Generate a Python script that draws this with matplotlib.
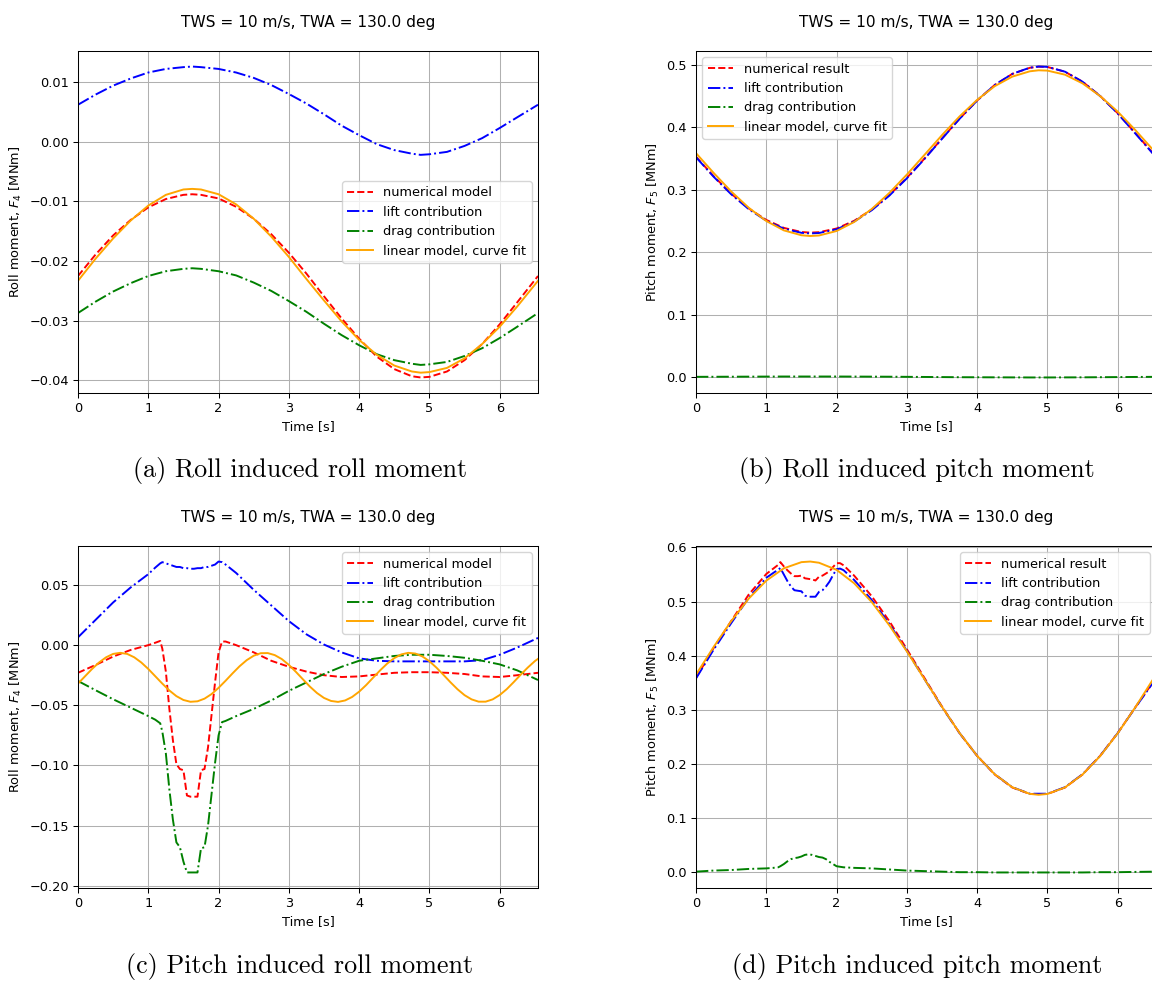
import matplotlib
matplotlib.use('Agg')
import matplotlib.pyplot as plt

# scale of the sub-figures relative to matplotlib defaults
s = 0.926
plt.rcParams['font.size'] = 10 * s
plt.rcParams['axes.titlesize'] = 12 * s
plt.rcParams['lines.linewidth'] = 1.5 * s
plt.rcParams['axes.linewidth'] = 0.8 * s
plt.rcParams['grid.linewidth'] = 0.8 * s
plt.rcParams['xtick.major.size'] = 3.5 * s
plt.rcParams['ytick.major.size'] = 3.5 * s
plt.rcParams['xtick.major.width'] = 0.8 * s
plt.rcParams['ytick.major.width'] = 0.8 * s
plt.rcParams['xtick.major.pad'] = 3.5 * s
plt.rcParams['ytick.major.pad'] = 3.5 * s
plt.rcParams['axes.labelpad'] = 4 * s

title = 'TWS = 10 m/s, TWA = 130.0 deg'

# time grid for the smooth curves
t = [0, 0.25, 0.5, 0.75, 1.0, 1.25, 1.5, 1.625, 1.75, 2.0, 2.25, 2.5, 2.75, 3.0, 3.25,
     3.5, 3.75, 4.0, 4.25, 4.5, 4.75, 4.875, 5.0, 5.25, 5.5, 5.75, 6.0, 6.25, 6.545]

# (a) roll induced roll moment
roll_roll_num = [-0.0225, -0.0189, -0.0157, -0.0131, -0.0110, -0.0096, -0.0089, -0.0088,
                 -0.0089, -0.0095, -0.0109, -0.0129, -0.0155, -0.0186, -0.0221, -0.0259,
                 -0.0296, -0.0330, -0.0360, -0.0381, -0.0393, -0.0395, -0.0394, -0.0385,
                 -0.0366, -0.0339, -0.0306, -0.0269, -0.0225]
roll_roll_lift = [0.0062, 0.0079, 0.0094, 0.0106, 0.0116, 0.0122, 0.0125, 0.0126, 0.0125,
                  0.0122, 0.0116, 0.0107, 0.0095, 0.0080, 0.0064, 0.0046, 0.0027, 0.0011,
                  -0.0004, -0.0014, -0.0020, -0.0022, -0.0021, -0.0017, -0.0007, 0.0006,
                  0.0023, 0.0041, 0.0062]
roll_roll_drag = [-0.0287, -0.0268, -0.0251, -0.0237, -0.0225, -0.0217, -0.0213, -0.0212,
                  -0.0213, -0.0217, -0.0224, -0.0236, -0.0250, -0.0267, -0.0285, -0.0305,
                  -0.0324, -0.0341, -0.0356, -0.0366, -0.0372, -0.0374, -0.0373, -0.0369,
                  -0.0359, -0.0346, -0.0329, -0.0310, -0.0287]
roll_roll_fit = [-0.0233, -0.0196, -0.0162, -0.0132, -0.0107, -0.0089, -0.0080, -0.0079,
                 -0.0080, -0.0088, -0.0105, -0.0129, -0.0159, -0.0193, -0.0230, -0.0266,
                 -0.0301, -0.0332, -0.0357, -0.0375, -0.0385, -0.0387, -0.0386, -0.0379,
                 -0.0363, -0.0339, -0.0310, -0.0276, -0.0233]

# (b) roll induced pitch moment
roll_pitch_num = [0.3528, 0.3218, 0.2938, 0.2701, 0.2517, 0.2390, 0.2324, 0.2314, 0.2321,
                  0.2380, 0.2503, 0.2683, 0.2915, 0.3190, 0.3497, 0.3819, 0.4136, 0.4427,
                  0.4675, 0.4852, 0.4950, 0.4968, 0.4963, 0.4887, 0.4727, 0.4500, 0.4224,
                  0.3907, 0.3528]
roll_pitch_lift = [0.3520, 0.3209, 0.2928, 0.2690, 0.2505, 0.2377, 0.2311, 0.2301, 0.2308,
                   0.2367, 0.2491, 0.2672, 0.2905, 0.3182, 0.3491, 0.3815, 0.4134, 0.4426,
                   0.4675, 0.4853, 0.4952, 0.4970, 0.4965, 0.4888, 0.4727, 0.4498, 0.4220,
                   0.3901, 0.3520]
roll_pitch_drag = [0.0008, 0.0009, 0.0010, 0.0011, 0.0012, 0.0013, 0.0013, 0.0013, 0.0013,
                   0.0013, 0.0012, 0.0011, 0.0010, 0.0008, 0.0006, 0.0004, 0.0002, 0.0001,
                   0.0, -0.0001, -0.0002, -0.0002, -0.0002, -0.0001, 0.0, 0.0002, 0.0004,
                   0.0006, 0.0008]
roll_pitch_fit = [0.3585, 0.3270, 0.2973, 0.2712, 0.2500, 0.2350, 0.2272, 0.2260, 0.2268,
                  0.2340, 0.2484, 0.2691, 0.2948, 0.3242, 0.3556, 0.3873, 0.4172, 0.4437,
                  0.4656, 0.4809, 0.4894, 0.4910, 0.4905, 0.4840, 0.4701, 0.4498, 0.4249,
                  0.3955, 0.3585]

# finer time grid for the pitch-induced curves (sharp features around 1.2-2.1 s)
t_p = [0, 0.25, 0.5, 0.75, 1.0, 1.1, 1.17, 1.2, 1.25, 1.3, 1.35, 1.4, 1.45, 1.5, 1.55,
       1.6, 1.65, 1.7, 1.75, 1.8, 1.85, 1.9, 1.95, 2.0, 2.05, 2.1, 2.25, 2.5, 2.75, 3.0,
       3.25, 3.5, 3.75, 4.0, 4.25, 4.5, 4.75, 5.0, 5.25, 5.5, 5.75, 6.0, 6.25, 6.545]

# (c) pitch induced roll moment
pitch_roll_num = [-0.023, -0.0165, -0.0095, -0.004, 0.0, 0.002, 0.0035, -0.003, -0.022,
                  -0.053, -0.079, -0.099, -0.103, -0.104, -0.125, -0.126, -0.126, -0.126,
                  -0.104, -0.103, -0.085, -0.058, -0.031, -0.006, 0.003, 0.003, 0.0, -0.006,
                  -0.013, -0.018, -0.022, -0.025, -0.0265, -0.026, -0.0245, -0.023, -0.0225,
                  -0.0225, -0.023, -0.024, -0.026, -0.0265, -0.025, -0.023]
pitch_roll_lift = [0.0065, 0.021, 0.0355, 0.048, 0.059, 0.0645, 0.068, 0.069, 0.068, 0.067,
                   0.066, 0.065, 0.065, 0.064, 0.064, 0.0635, 0.0635, 0.064, 0.064, 0.065,
                   0.065, 0.066, 0.067, 0.0695, 0.069, 0.067, 0.060, 0.046, 0.033, 0.020,
                   0.009, 0.0005, -0.006, -0.011, -0.013, -0.0135, -0.0135, -0.0135, -0.0135,
                   -0.0135, -0.0125, -0.008, -0.002, 0.006]
pitch_roll_drag = [-0.0298, -0.0375, -0.045, -0.052, -0.059, -0.062, -0.065, -0.072, -0.090,
                   -0.120, -0.145, -0.164, -0.168, -0.180, -0.189, -0.189, -0.189, -0.189,
                   -0.169, -0.168, -0.150, -0.124, -0.098, -0.075, -0.064, -0.063, -0.059,
                   -0.053, -0.046, -0.038, -0.031, -0.024, -0.018, -0.013, -0.011, -0.009,
                   -0.008, -0.008, -0.009, -0.0105, -0.013, -0.016, -0.021, -0.029]

# the curve fit in (c) oscillates faster, so it gets its own grid
t_fit = [0, 0.1, 0.2, 0.3, 0.4, 0.5, 0.6, 0.7, 0.8, 0.9, 1.0, 1.1, 1.2, 1.3, 1.4, 1.5,
         1.6, 1.7, 1.8, 1.9, 2.0, 2.1, 2.2, 2.3, 2.4, 2.5, 2.6, 2.7, 2.8, 2.9, 3.0, 3.1,
         3.2, 3.3, 3.4, 3.5, 3.6, 3.7, 3.8, 3.9, 4.0, 4.1, 4.2, 4.3, 4.4, 4.5, 4.6, 4.7,
         4.8, 4.9, 5.0, 5.1, 5.2, 5.3, 5.4, 5.5, 5.6, 5.7, 5.8, 5.9, 6.0, 6.1, 6.2, 6.3,
         6.4, 6.5, 6.545]
pitch_roll_fit = [-0.0320, -0.0259, -0.0198, -0.0144, -0.0101, -0.0073, -0.0064, -0.0073,
                  -0.0101, -0.0144, -0.0198, -0.0259, -0.0320, -0.0377, -0.0424, -0.0456,
                  -0.0471, -0.0467, -0.0445, -0.0407, -0.0355, -0.0296, -0.0234, -0.0175,
                  -0.0125, -0.0088, -0.0067, -0.0066, -0.0083, -0.0116, -0.0164, -0.0222,
                  -0.0284, -0.0345, -0.0398, -0.0439, -0.0464, -0.0472, -0.0460, -0.0431,
                  -0.0387, -0.0332, -0.0270, -0.0209, -0.0153, -0.0108, -0.0077, -0.0064,
                  -0.0070, -0.0094, -0.0134, -0.0187, -0.0247, -0.0309, -0.0367, -0.0416,
                  -0.0451, -0.0470, -0.0470, -0.0451, -0.0415, -0.0366, -0.0307, -0.0245,
                  -0.0186, -0.0133, -0.0114]

# (d) pitch induced pitch moment
pitch_pitch_num = [0.359, 0.414, 0.464, 0.513, 0.551, 0.561, 0.568, 0.573, 0.565, 0.558,
                   0.552, 0.547, 0.547, 0.548, 0.543, 0.542, 0.541, 0.539, 0.546, 0.548,
                   0.552, 0.556, 0.564, 0.571, 0.571, 0.567, 0.548, 0.510, 0.464, 0.412,
                   0.359, 0.306, 0.257, 0.215, 0.1805, 0.1565, 0.1445, 0.1445, 0.1565,
                   0.1805, 0.215, 0.257, 0.3045, 0.359]
pitch_pitch_lift = [0.358, 0.411, 0.460, 0.507, 0.544, 0.553, 0.559, 0.562, 0.550, 0.538,
                    0.528, 0.521, 0.520, 0.519, 0.511, 0.509, 0.509, 0.509, 0.518, 0.521,
                    0.528, 0.537, 0.549, 0.560, 0.561, 0.558, 0.540, 0.503, 0.459, 0.409,
                    0.357, 0.305, 0.257, 0.215, 0.181, 0.157, 0.145, 0.145, 0.157, 0.181,
                    0.215, 0.257, 0.304, 0.358]
pitch_pitch_drag = [0.001, 0.003, 0.004, 0.006, 0.007, 0.008, 0.009, 0.011, 0.015, 0.020,
                    0.024, 0.026, 0.027, 0.029, 0.032, 0.033, 0.032, 0.030, 0.028, 0.027,
                    0.024, 0.019, 0.015, 0.011, 0.010, 0.009, 0.008, 0.007, 0.005, 0.003,
                    0.002, 0.001, 0.0, 0.0, -0.0005, -0.0005, -0.0005, -0.0005, -0.0005,
                    -0.0005, 0.0, 0.0, 0.0005, 0.001]
pitch_pitch_fit = [0.3650, 0.4160, 0.4637, 0.5055, 0.5387, 0.5615, 0.5729, 0.5740, 0.5718,
                   0.5587, 0.5339, 0.4992, 0.4563, 0.4081, 0.3568, 0.3055, 0.2572, 0.2150,
                   0.1809, 0.1570, 0.1447, 0.1430, 0.1445, 0.1566, 0.1805, 0.2145, 0.2566,
                   0.3046, 0.3650]


def panel(ax, tn, num, lift, drag, tf, fit, num_label, ylabel, loc):
    ax.plot(tn, num, '--', color='red', label=num_label)
    ax.plot(tn, lift, '-.', color='blue', label='lift contribution')
    ax.plot(tn, drag, '-.', color='green', label='drag contribution')
    ax.plot(tf, fit, '-', color='orange', label='linear model, curve fit')
    ax.set_xlim(tn[0], tn[-1])
    ax.set_title(title, pad=17.5)
    ax.set_xlabel('Time [s]')
    ax.set_ylabel(ylabel)
    ax.grid(True)
    ax.legend(loc=loc)


fig = plt.figure(figsize=(11.52, 9.81), dpi=100)
W, H = 1152, 981
aw, ah = 460 / W, 342 / H
ax_a = fig.add_axes([78 / W, 1 - 393 / H, aw, ah])
ax_b = fig.add_axes([696 / W, 1 - 393 / H, aw, ah])
ax_c = fig.add_axes([78 / W, 1 - 888 / H, aw, ah])
ax_d = fig.add_axes([696 / W, 1 - 888 / H, aw, ah])

panel(ax_a, t, roll_roll_num, roll_roll_lift, roll_roll_drag, t, roll_roll_fit,
      'numerical model', 'Roll moment, $F_4$ [MNm]', 'center right')
panel(ax_b, t, roll_pitch_num, roll_pitch_lift, roll_pitch_drag, t, roll_pitch_fit,
      'numerical result', 'Pitch moment, $F_5$ [MNm]', 'upper left')
panel(ax_c, t_p, pitch_roll_num, pitch_roll_lift, pitch_roll_drag, t_fit, pitch_roll_fit,
      'numerical model', 'Roll moment, $F_4$ [MNm]', 'upper right')
panel(ax_d, t_p, pitch_pitch_num, pitch_pitch_lift, pitch_pitch_drag, t, pitch_pitch_fit,
      'numerical result', 'Pitch moment, $F_5$ [MNm]', 'upper right')

# sub-captions as in the document
cap = dict(fontfamily='cmr10', fontsize=18.8, ha='center', va='center')
fig.text(300 / W, 1 - 471 / H, '(a) Roll induced roll moment', **cap)
fig.text(917 / W, 1 - 471 / H, '(b) Roll induced pitch moment', **cap)
fig.text(300 / W, 1 - 966 / H, '(c) Pitch induced roll moment', **cap)
fig.text(917 / W, 1 - 966 / H, '(d) Pitch induced pitch moment', **cap)

fig.savefig('out.png', dpi=100)
